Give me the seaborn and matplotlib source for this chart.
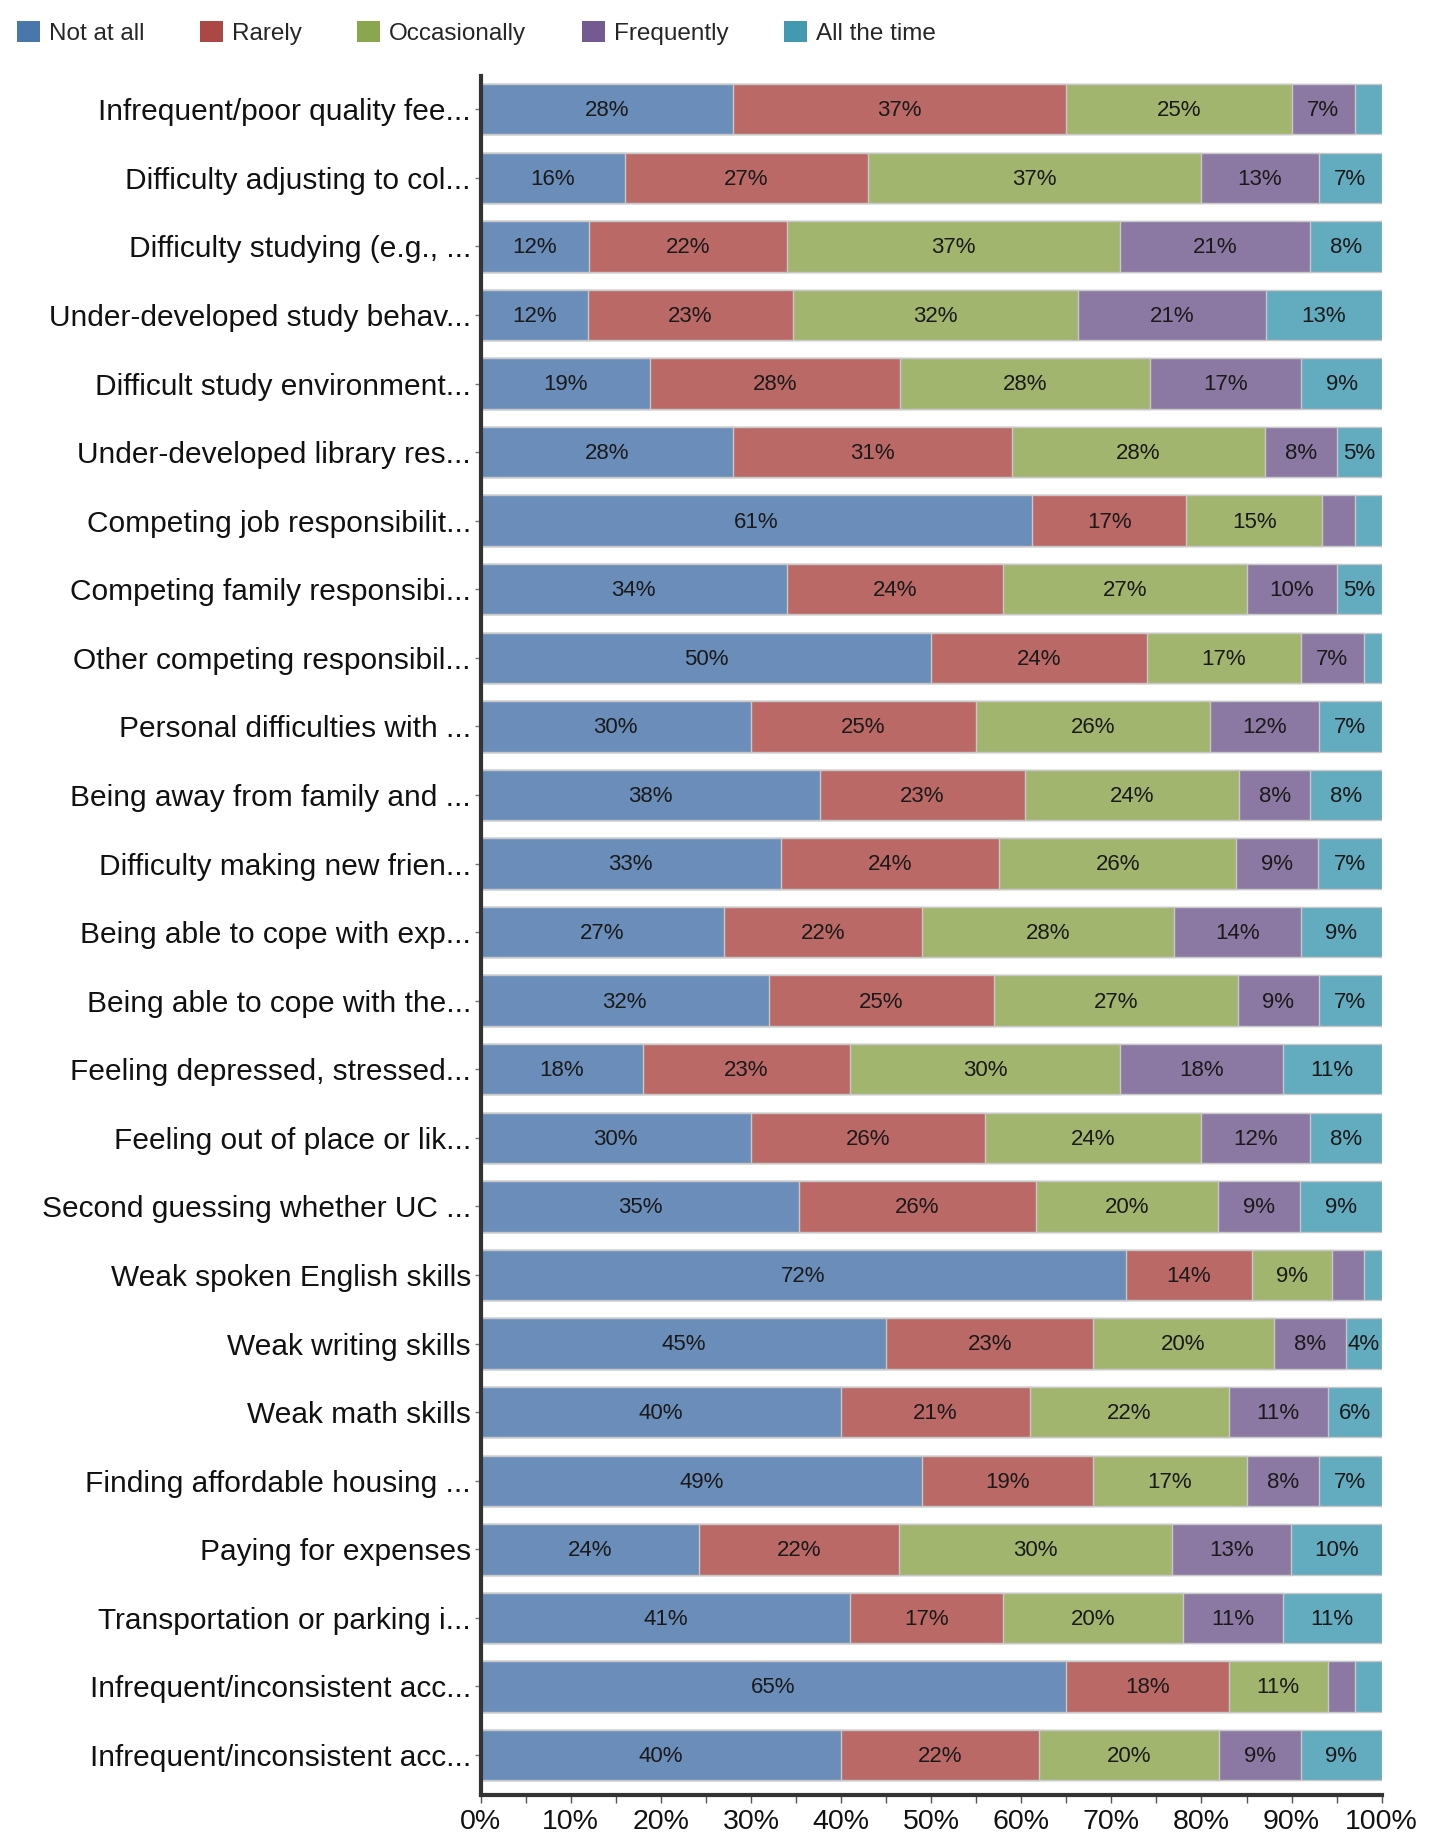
import numpy as np
import pandas as pd
import matplotlib
matplotlib.use("Agg")
import matplotlib.pyplot as plt
import seaborn as sns
from matplotlib.patches import Patch
from matplotlib.ticker import MultipleLocator, PercentFormatter

items = [
    "Infrequent/poor quality fee...",
    "Difficulty adjusting to col...",
    "Difficulty studying (e.g., ...",
    "Under-developed study behav...",
    "Difficult study environment...",
    "Under-developed library res...",
    "Competing job responsibilit...",
    "Competing family responsibi...",
    "Other competing responsibil...",
    "Personal difficulties with ...",
    "Being away from family and ...",
    "Difficulty making new frien...",
    "Being able to cope with exp...",
    "Being able to cope with the...",
    "Feeling depressed, stressed...",
    "Feeling out of place or lik...",
    "Second guessing whether UC ...",
    "Weak spoken English skills",
    "Weak writing skills",
    "Weak math skills",
    "Finding affordable housing ...",
    "Paying for expenses",
    "Transportation or parking i...",
    "Infrequent/inconsistent acc...",
    "Infrequent/inconsistent acc...",
]
levels = ["Not at all", "Rarely", "Occasionally", "Frequently", "All the time"]

not_at_all = [28, 16, 12, 12, 19, 28, 61, 34, 50, 30, 38, 33, 27, 32, 18, 30, 35, 72, 45, 40, 49, 24, 41, 65, 40]
rarely = [37, 27, 22, 23, 28, 31, 17, 24, 24, 25, 23, 24, 22, 25, 23, 26, 26, 14, 23, 21, 19, 22, 17, 18, 22]
occasionally = [25, 37, 37, 32, 28, 28, 15, 27, 17, 26, 24, 26, 28, 27, 30, 24, 20, 9, 20, 22, 17, 30, 20, 11, 20]
frequently = [7, 13, 21, 21, 17, 8, 3.6, 10, 7, 12, 8, 9, 14, 9, 18, 12, 9, 3.5, 8, 11, 8, 13, 11, 3, 9]
all_time = [3, 7, 8, 13, 9, 5, 3, 5, 2, 7, 8, 7, 9, 7, 11, 8, 9, 2, 4, 6, 7, 10, 11, 3, 9]

bar_colors = ["#6a8dba", "#bb6966", "#a1b56f", "#8b79a3", "#63abbe"]
legend_colors = ["#4a77ab", "#ab4744", "#8aa64f", "#735a90", "#4399b0"]

vals = np.array([not_at_all, rarely, occasionally, frequently, all_time], dtype=float).T
shares = vals / vals.sum(axis=1, keepdims=True) * 100
cum = np.cumsum(shares, axis=1)

sns.set_style("white")
plt.rcParams["font.family"] = ["Liberation Sans", "DejaVu Sans"]

fig = plt.figure(figsize=(14.37, 18.38), dpi=100)
ax = fig.add_axes([0.3345, 0.0235, 0.627, 0.935])

pos = list(range(len(items)))
# stacked bars: draw cumulative totals from the last level backwards
for j in range(len(levels) - 1, -1, -1):
    df = pd.DataFrame({"pos": pos, "x": cum[:, j]})
    sns.barplot(data=df, x="x", y="pos", orient="h", order=pos, color=bar_colors[j],
                saturation=1, width=0.735, edgecolor="#c8c8c8", linewidth=1.0, ax=ax)

for i in range(len(items)):
    for j in range(len(levels)):
        v = vals[i, j]
        if v >= 4:
            left = cum[i, j] - shares[i, j]
            ax.text(left + shares[i, j] / 2, i + 0.02, f"{v:.0f}%", ha="center", va="center",
                    fontsize=16, color="#1a1a1a")

ax.set_xlim(0, 100)
ax.set_ylim(24.58, -0.48)
ax.set_yticks(pos)
ax.set_yticklabels(items, fontsize=21.5, color="#111111")
ax.set_ylabel("")
ax.set_xlabel("")
ax.xaxis.set_major_locator(MultipleLocator(10))
ax.xaxis.set_minor_locator(MultipleLocator(5))
ax.xaxis.set_major_formatter(PercentFormatter(decimals=0))
ax.tick_params(axis="x", which="both", bottom=True, direction="out", length=6, width=1,
               color="#555555", labelsize=20.5, pad=4, labelcolor="#111111")
ax.tick_params(axis="y", left=True, direction="out", length=4, width=1, color="#777777", pad=3)
for s in ["top", "right"]:
    ax.spines[s].set_visible(False)
for s in ["left", "bottom"]:
    ax.spines[s].set_color("#333333")
    ax.spines[s].set_linewidth(3)

handles = [Patch(facecolor=c, edgecolor="none", label=l) for c, l in zip(legend_colors, levels)]
fig.legend(handles=handles, loc="center left", bbox_to_anchor=(17 / 1437, 1 - 33 / 1838), ncol=5,
           frameon=False, fontsize=17.5, handlelength=0.95, handleheight=0.95,
           handletextpad=0.35, columnspacing=2.3, borderpad=0, borderaxespad=0)

fig.savefig("out.png", dpi=100)
